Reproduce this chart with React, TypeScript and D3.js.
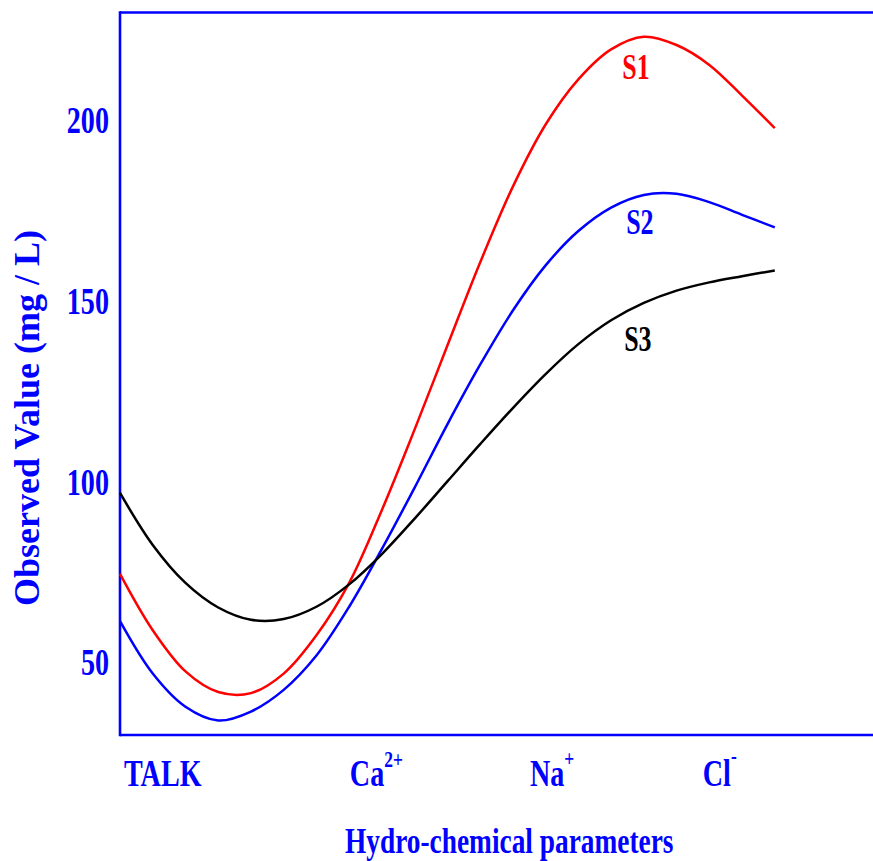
import React from "react";
import * as d3 from "d3";

// Sample positions along the parameter axis (0 = TALK side, 100 = Cl⁻ end)
const positions = [0, 5, 10, 15, 20, 25, 30, 35, 40, 45, 50, 55, 60, 65, 70, 75, 80, 85, 90, 95, 100];

const s1Values = [74.6, 59.0, 47.6, 41.9, 41.6, 47.0, 57.6, 72.1, 92.3, 114.6, 137.8, 160.8, 181.8, 199.0, 211.5, 219.8, 223.3, 221.0, 215.5, 207.0, 198.0];
const s2Values = [61.5, 47.0, 37.8, 34.0, 36.5, 42.5, 52.0, 65.5, 81.5, 98.5, 116.0, 132.5, 147.5, 160.0, 169.5, 176.0, 179.5, 179.8, 177.5, 174.0, 170.5];
const s3Values = [97.0, 82.6, 72.1, 65.3, 61.9, 62.1, 65.5, 71.7, 80.1, 89.9, 100.2, 110.5, 120.5, 129.9, 138.2, 144.8, 149.6, 153.0, 155.3, 157.0, 158.6];

const seriesNames = ["S1", "S2", "S3"];
const seriesColors = ["#ff0000", "#0000ff", "#000000"];
const seriesLabelPos: [number, number][] = [
  [76.7, 211.5],
  [77.3, 168.6],
  [77.0, 136.2],
];

const yTicks = [50, 100, 150, 200];

// Category labels: main text, superscript, left position in axis units
const categories = ["TALK", "Ca", "Na", "Cl"];
const categorySup = ["", "2+", "+", "-"];
const categoryPos = [0.6, 35.1, 62.6, 89.0];
const categorySupDy = [0, -19, -20, -22];

const xTitle = "Hydro-chemical parameters";
const yTitle = "Observed Value (mg / L)";

const FONT = "'Liberation Serif', 'Times New Roman', serif";
const BLUE = "#0000ff";
const SX = 0.76;

export default function App() {
  const x = d3.scaleLinear().domain([0, 115]).range([120, 873]);
  const y = d3.scaleLinear().domain([30, 230]).range([735, 12.5]);

  const series = [s1Values, s2Values, s3Values];
  const line = d3
    .line<number>()
    .x((_, i) => x(positions[i]))
    .y((v) => y(v))
    .curve(d3.curveCatmullRom.alpha(0.5));

  const left = x(0);
  const right = x(115);
  const top = y(230);
  const bottom = y(30);

  return (
    <svg
      width={873}
      height={861}
      style={{ position: "absolute", left: 0, top: 0, background: "#ffffff" }}
      fontFamily={FONT}
      fontWeight="bold"
    >
      {/* frame */}
      <line x1={left} x2={right} y1={top} y2={top} stroke={BLUE} strokeWidth={2.6} />
      <line x1={left} x2={right} y1={bottom} y2={bottom} stroke={BLUE} strokeWidth={2.6} />
      <line x1={left} x2={left} y1={top - 1.3} y2={bottom + 1.3} stroke={BLUE} strokeWidth={2.6} />

      {/* y ticks */}
      {yTicks.map((t) => (
        <g key={t} transform={`translate(109, ${y(t) + 12.5}) scale(${SX}, 1)`}>
          <text textAnchor="end" fontSize={37} fill={BLUE}>
            {t}
          </text>
        </g>
      ))}

      {/* y title */}
      <text
        transform={`translate(39, 418) rotate(-90)`}
        textAnchor="middle"
        fontSize={36}
        fill={BLUE}
      >
        {yTitle}
      </text>

      {/* category labels */}
      {categories.map((c, i) => (
        <g key={c} transform={`translate(${x(categoryPos[i])}, 786) scale(${SX}, 1)`}>
          <text fontSize={37} fill={BLUE}>
            {c}
            {categorySup[i] && (
              <tspan fontSize={23} dy={categorySupDy[i]}>
                {categorySup[i]}
              </tspan>
            )}
          </text>
        </g>
      ))}

      {/* x title */}
      <g transform={`translate(345, 853) scale(${SX}, 1)`}>
        <text fontSize={36} fill={BLUE}>
          {xTitle}
        </text>
      </g>

      {/* series */}
      {series.map((vals, i) => (
        <path
          key={seriesNames[i]}
          d={line(vals) || ""}
          fill="none"
          stroke={seriesColors[i]}
          strokeWidth={2.5}
        />
      ))}

      {/* series labels */}
      {seriesNames.map((n, i) => (
        <g
          key={n}
          transform={`translate(${x(seriesLabelPos[i][0])}, ${y(seriesLabelPos[i][1])}) scale(0.72, 1)`}
        >
          <text fontSize={36} fill={seriesColors[i]}>
            {n}
          </text>
        </g>
      ))}
    </svg>
  );
}
